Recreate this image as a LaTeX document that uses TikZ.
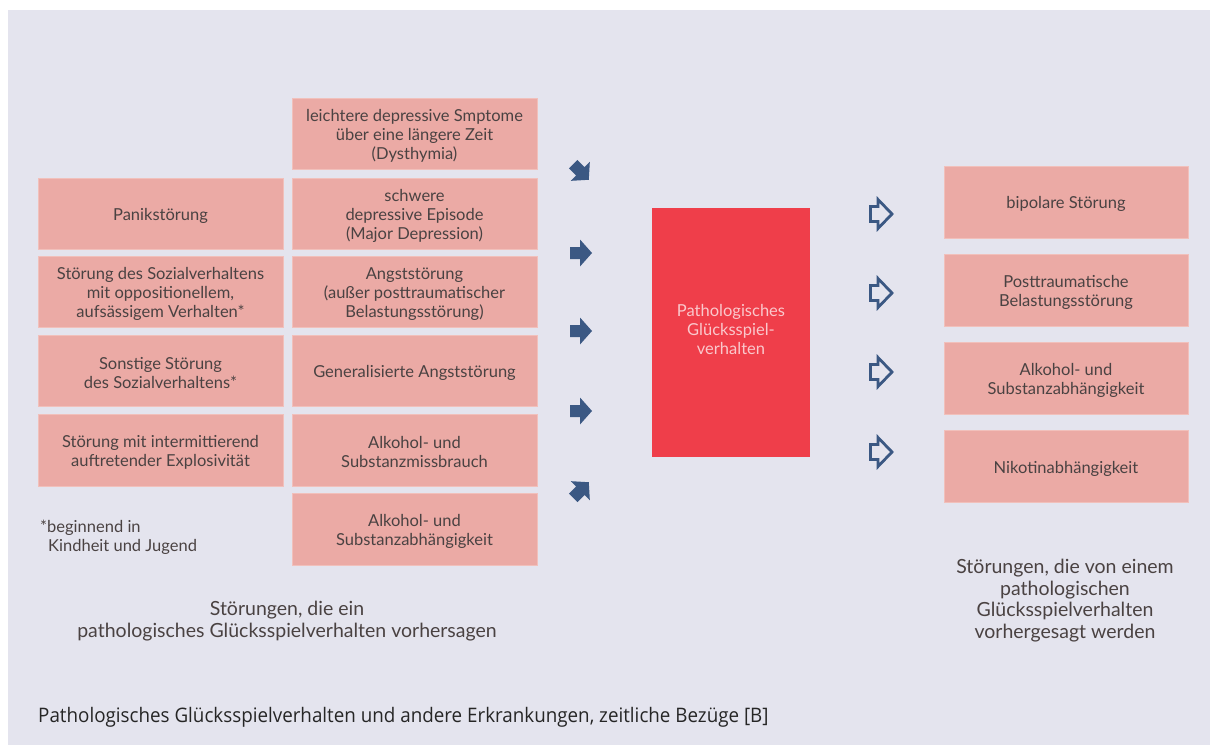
\documentclass[tikz,border=0pt]{standalone}
\usepackage{fontspec}
\setmainfont{Lato}
\newfontfamily\capfont[FakeStretch=0.94]{Open Sans}
\definecolor{bg}{HTML}{E4E4EE}
\definecolor{boxfill}{HTML}{EBAAA5}
\definecolor{boxline}{HTML}{F1C0BB}
\definecolor{redbox}{HTML}{EF3E4A}
\definecolor{redtext}{HTML}{FAC8CC}
\definecolor{txt}{HTML}{4A4242}
\definecolor{arrowblue}{HTML}{3B5883}
\begin{document}
\begin{tikzpicture}[x=1pt,y=-1pt,
  every node/.style={font=\fontsize{16.5}{19}\selectfont, text=txt, align=center, inner sep=0pt},
  pbox/.style={fill=boxfill, draw=boxline, line width=0.8pt, minimum width=245pt, minimum height=71pt, execute at begin node={\rule{0pt}{17pt}}},
  rbox/.style={fill=boxfill, draw=boxline, line width=0.8pt, minimum width=244pt, minimum height=72pt, execute at begin node={\rule{0pt}{17pt}}},
  twolines/.style={execute at begin node={\rule{0pt}{35.5pt}}},
  threelines/.style={execute at begin node={\rule{0pt}{54.5pt}}},
  fillarrow/.style={fill=arrowblue},
  openarrow/.style={draw=arrowblue, line width=2.8pt, line join=miter},
  note/.style={font=\fontsize{19.5}{21.5}\selectfont}
]
\useasboundingbox (0,0) rectangle (1210,745);
\fill[white] (0,0) rectangle (1210,745);
\fill[bg] (8,10) rectangle (1210,745);

% left column
\node[pbox] (l1) at (160.5,213.5) {Panikstörung};
\node[pbox, threelines] (l2) at (160.5,291.5) {Störung des Sozialverhaltens\\mit oppositionellem,\\aufsässigem Verhalten*};
\node[pbox, twolines] (l3) at (160.5,370.5) {Sonstige Störung\\des Sozialverhaltens*};
\node[pbox, twolines, minimum height=72pt] (l4) at (160.5,450) {Störung mit intermittierend\\auftretender Explosivität};

% middle column
\node[pbox, threelines] (m1) at (414.5,133.5) {leichtere depressive Smptome\\über eine längere Zeit\\(Dysthymia)};
\node[pbox, threelines] (m2) at (414.5,213.5) {schwere\\depressive Episode\\(Major Depression)};
\node[pbox, threelines] (m3) at (414.5,291.5) {Angststörung\\(außer posttraumatischer\\Belastungsstörung)};
\node[pbox] (m4) at (414.5,370.5) {Generalisierte Angststörung};
\node[pbox, twolines, minimum height=72pt] (m5) at (414.5,450) {Alkohol- und\\Substanzmissbrauch};
\node[pbox, twolines, minimum height=72pt] (m6) at (414.5,529) {Alkohol- und\\Substanzabhängigkeit};

% center
\node[fill=redbox, minimum width=158pt, minimum height=249pt, text=redtext, execute at end node={\rule[-6pt]{0pt}{0pt}}] (pg) at (731,332.5) {Pathologisches\\Glücksspiel-\\verhalten};

% right column
\node[rbox] (r1) at (1066,202) {bipolare Störung};
\node[rbox, twolines] (r2) at (1066,290) {Posttraumatische\\Belastungsstörung};
\node[rbox, twolines] (r3) at (1066,378) {Alkohol- und\\Substanzabhängigkeit};
\node[rbox] (r4) at (1066,466) {Nikotinabhängigkeit};

% filled arrows (left of center)
\foreach \yy/\rot in {172/-45, 253/0, 331/0, 411/0, 490/45}{
  \begin{scope}[shift={(581,\yy)}, rotate=\rot]
    \fill[fillarrow] (-11,-6) -- (-1,-6) -- (-1,-13.5) -- (11,0) -- (-1,13.5) -- (-1,6) -- (-11,6) -- cycle;
  \end{scope}
}
% open arrows (right of center)
\foreach \yy in {214, 293, 372, 452}{
  \begin{scope}[shift={(881,\yy)}]
    \draw[openarrow] (-10.5,-7.5) -- (-3,-7.5) -- (-3,-14.5) -- (11,0) -- (-3,14.5) -- (-3,7.5) -- (-10.5,7.5) -- cycle;
  \end{scope}
}

% notes
\node[anchor=base west, align=left] (fn) at (40,551) {*beginnend in\\\hspace*{8pt}Kindheit und Jugend};
\node[note, anchor=base] (lt) at (287,637) {Störungen, die ein\\pathologisches Glücksspielverhalten vorhersagen};
\node[note, anchor=base] (rt) at (1065,638) {Störungen, die von einem\\pathologischen\\Glücksspielverhalten\\vorhergesagt werden};

\node[anchor=base west, font=\capfont\fontsize{20}{22}\selectfont, text=black!85] (cap) at (38,722) {Pathologisches Glücksspielverhalten und andere Erkrankungen, zeitliche Bezüge [B]};
\end{tikzpicture}
\end{document}
